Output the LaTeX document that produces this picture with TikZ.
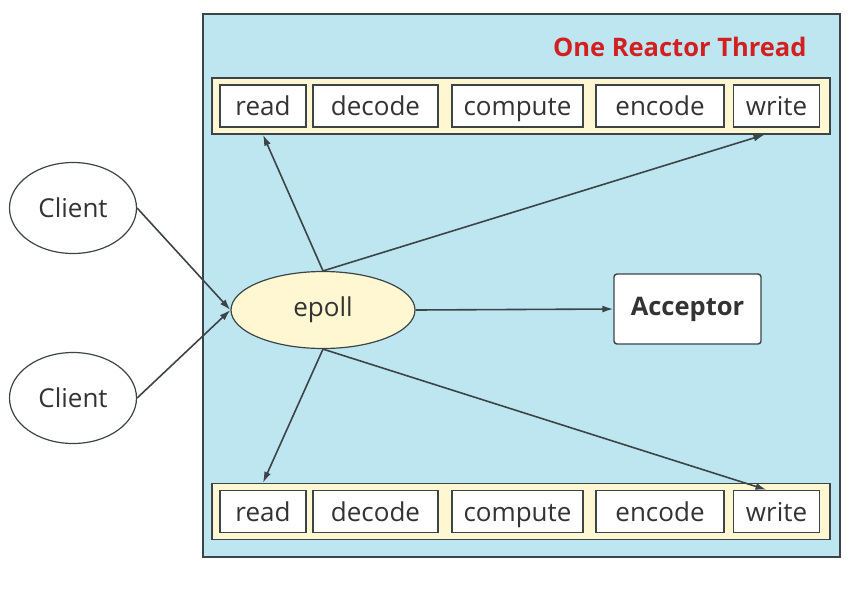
\documentclass[tikz,border=0pt]{standalone}
\usepackage{fontspec}
\setmainfont{Open Sans}
\usetikzlibrary{arrows.meta,shapes.geometric}
\definecolor{threadblue}{HTML}{BEE6F0}
\definecolor{stripyellow}{HTML}{FFF7D2}
\definecolor{edgegray}{HTML}{3C4448}
\definecolor{textgray}{HTML}{333333}
\definecolor{titlered}{HTML}{D21F1F}
\tikzset{
  stage/.style={draw=edgegray, line width=1.4pt, fill=white, minimum height=42pt, inner sep=0pt, text=textgray, text height=21pt, text depth=2pt, font=\fontsize{26}{30}\selectfont},
  strip/.style={draw=edgegray, line width=1.4pt, fill=stripyellow, minimum width=618pt, minimum height=56pt},
  client/.style={ellipse, draw=edgegray, line width=1.2pt, fill=white, minimum width=127pt, minimum height=91pt, text=textgray, font=\fontsize{26}{30}\selectfont},
  link/.style={draw=edgegray, line width=1.6pt, -{Latex[length=11pt,width=7pt]}}
}
\begin{document}
\begin{tikzpicture}[x=1pt,y=-1pt]
    \useasboundingbox (0,0) rectangle (856,590);
    % reactor thread frame
    \node[draw=edgegray, line width=1.4pt, fill=threadblue, minimum width=637pt, minimum height=543pt] (thread) at (521.5,285.5) {};
    \node[anchor=east, text=titlered, font=\fontsize{25.5}{30}\selectfont\bfseries] (title) at (810,47) {One Reactor Thread};
    % top pipeline
    \node[strip] (topstrip) at (521,106) {};
    \node[stage, minimum width=86pt] (tread) at (263,106) {read};
    \node[stage, minimum width=125pt] (tdecode) at (375.5,106) {decode};
    \node[stage, minimum width=131pt] (tcompute) at (517.5,106) {compute};
    \node[stage, minimum width=128pt] (tencode) at (660,106) {encode};
    \node[stage, minimum width=86pt] (twrite) at (776.5,106) {write};
    % bottom pipeline
    \node[strip] (botstrip) at (521,511.5) {};
    \node[stage, minimum width=86pt] (bread) at (263,511.5) {read};
    \node[stage, minimum width=125pt] (bdecode) at (375.5,511.5) {decode};
    \node[stage, minimum width=131pt] (bcompute) at (517.5,511.5) {compute};
    \node[stage, minimum width=128pt] (bencode) at (660,511.5) {encode};
    \node[stage, minimum width=86pt] (bwrite) at (776.5,511.5) {write};
    % clients, epoll, acceptor
    \node[client] (c1) at (73,208) {Client};
    \node[client] (c2) at (73,398) {Client};
    \node[ellipse, draw=edgegray, line width=1.2pt, fill=stripyellow, minimum width=184pt, minimum height=77pt, text=textgray, font=\fontsize{26}{30}\selectfont] (epoll) at (323,310) {epoll};
    \node[draw=edgegray, line width=1.4pt, fill=white, rounded corners=3pt, minimum width=147pt, minimum height=70pt, text=textgray, font=\fontsize{25.5}{30}\selectfont\bfseries] (acceptor) at (687.5,309) {Acceptor};
    % connectors
    \draw[link] (c1.east) -- (epoll.west);
    \draw[link] (c2.east) -- (epoll.west);
    \draw[link] (epoll.north) -- (tread.south |- topstrip.south);
    \draw[link] (epoll.north) -- ([xshift=-12pt]twrite.south |- topstrip.south);
    \draw[link] (epoll.east) -- (acceptor.west);
    \draw[link] (epoll.south) -- (bread.north |- botstrip.north);
    \draw[link] (epoll.south) -- ([xshift=-10pt]bwrite.north);
\end{tikzpicture}
\end{document}
